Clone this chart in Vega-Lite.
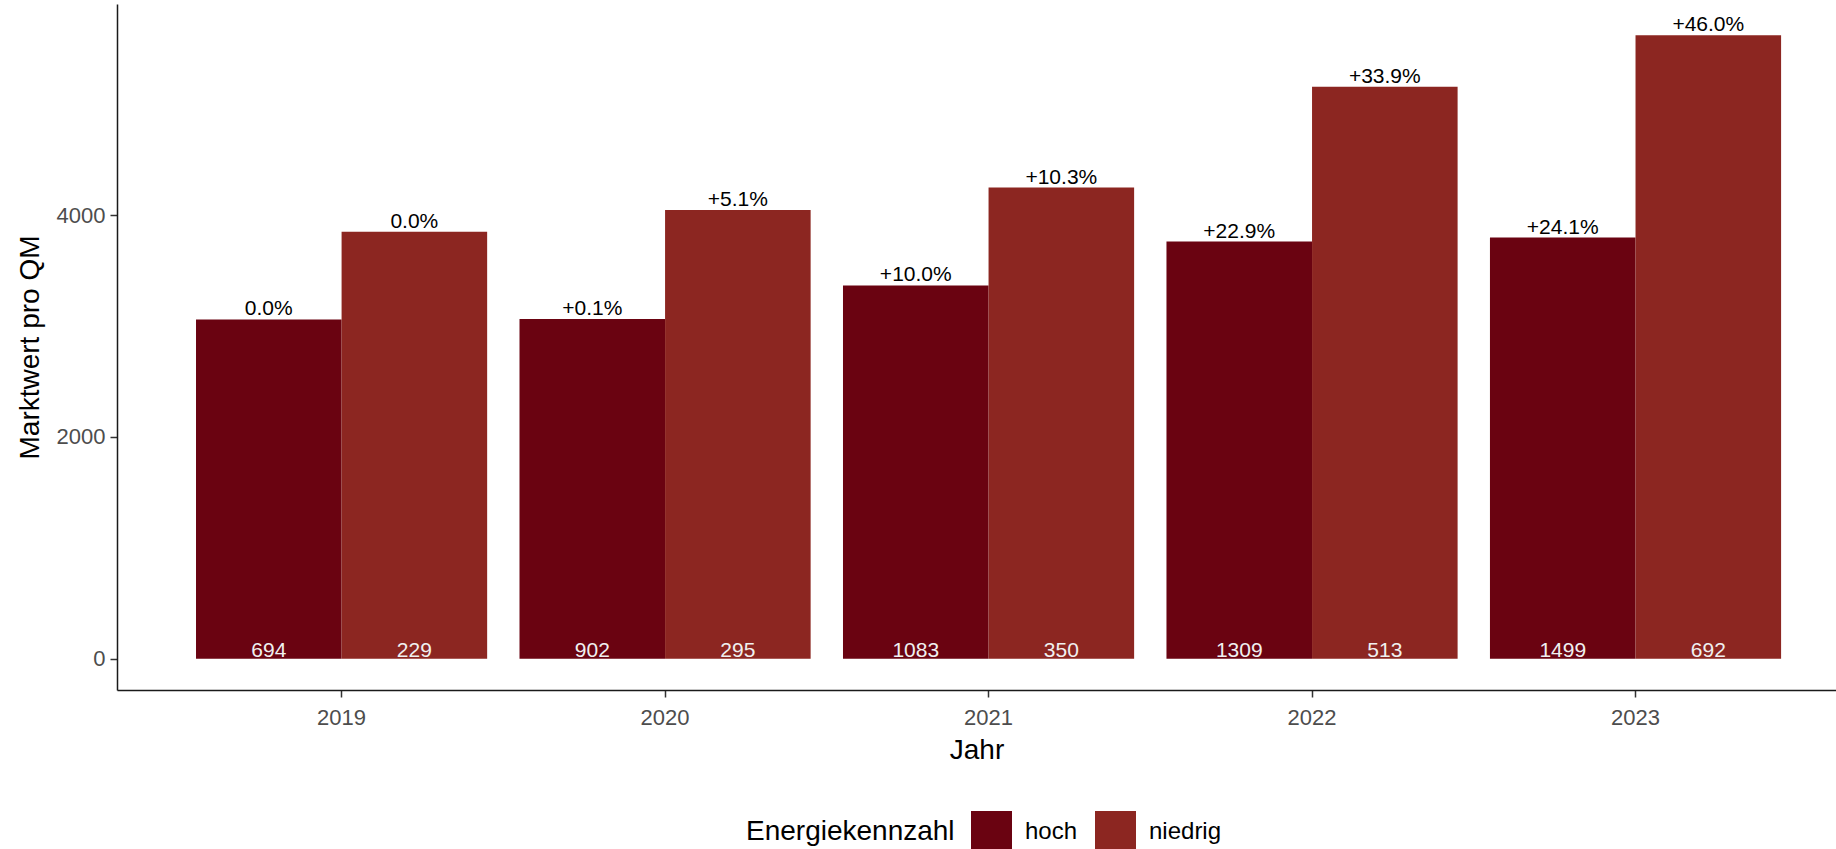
{
  "$schema": "https://vega.github.io/schema/vega-lite/v6.json",
  "width": 1719,
  "height": 686,
  "autosize": {"type": "none"},
  "padding": {"left": 117, "top": 4, "right": 0, "bottom": 159},
  "background": "white",
  "config": {
    "font": "Liberation Sans",
    "view": {"stroke": null},
    "axis": {
      "grid": false,
      "domainColor": "#1a1a1a",
      "domainWidth": 1.5,
      "tickColor": "#333333",
      "tickWidth": 1.5,
      "tickSize": 7,
      "labelFont": "Liberation Sans",
      "labelFontSize": 22,
      "labelColor": "#4D4D4D",
      "titleFont": "Liberation Sans",
      "titleFontSize": 28,
      "titleFontWeight": "normal",
      "titleColor": "#000000"
    }
  },
  "data": {
    "values": [
      {"Jahr": "2019", "Energiekennzahl": "hoch", "Wert": 3060, "Veraenderung": "0.0%", "Anzahl": "694"},
      {"Jahr": "2019", "Energiekennzahl": "niedrig", "Wert": 3851, "Veraenderung": "0.0%", "Anzahl": "229"},
      {"Jahr": "2020", "Energiekennzahl": "hoch", "Wert": 3063, "Veraenderung": "+0.1%", "Anzahl": "902"},
      {"Jahr": "2020", "Energiekennzahl": "niedrig", "Wert": 4047, "Veraenderung": "+5.1%", "Anzahl": "295"},
      {"Jahr": "2021", "Energiekennzahl": "hoch", "Wert": 3366, "Veraenderung": "+10.0%", "Anzahl": "1083"},
      {"Jahr": "2021", "Energiekennzahl": "niedrig", "Wert": 4248, "Veraenderung": "+10.3%", "Anzahl": "350"},
      {"Jahr": "2022", "Energiekennzahl": "hoch", "Wert": 3761, "Veraenderung": "+22.9%", "Anzahl": "1309"},
      {"Jahr": "2022", "Energiekennzahl": "niedrig", "Wert": 5156, "Veraenderung": "+33.9%", "Anzahl": "513"},
      {"Jahr": "2023", "Energiekennzahl": "hoch", "Wert": 3797, "Veraenderung": "+24.1%", "Anzahl": "1499"},
      {"Jahr": "2023", "Energiekennzahl": "niedrig", "Wert": 5622, "Veraenderung": "+46.0%", "Anzahl": "692"}
    ]
  },
  "encoding": {
    "x": {
      "field": "Jahr",
      "type": "nominal",
      "scale": {"paddingInner": 0.1, "paddingOuter": 0.207, "align": 0.59},
      "axis": {"labelAngle": 0, "labelPadding": 10, "titlePadding": 8, "title": "Jahr"}
    },
    "xOffset": {
      "field": "Energiekennzahl",
      "type": "nominal",
      "scale": {"paddingInner": 0, "paddingOuter": 0}
    }
  },
  "layer": [
    {
      "mark": {"type": "bar", "stroke": null},
      "encoding": {
        "y": {
          "field": "Wert",
          "type": "quantitative",
          "stack": null,
          "scale": {"domain": [-281, 5903], "nice": false, "zero": false},
          "axis": {"values": [0, 2000, 4000], "format": "d", "labelPadding": 5, "titlePadding": 12, "title": "Marktwert pro QM"}
        },
        "color": {
          "field": "Energiekennzahl",
          "type": "nominal",
          "scale": {"domain": ["hoch", "niedrig"], "range": ["#6A0311", "#8C2621"]},
          "legend": {
            "orient": "none",
            "direction": "horizontal",
            "legendX": 629,
            "legendY": 807,
            "title": "Energiekennzahl",
            "titleOrient": "left",
            "titleAnchor": "middle",
            "titleBaseline": "middle",
            "titleLimit": 600,
            "titleFont": "Liberation Sans",
            "titleFontSize": 28,
            "titleFontWeight": "normal",
            "titleColor": "#000000",
            "titlePadding": 16,
            "labelFont": "Liberation Sans",
            "labelFontSize": 24,
            "labelLimit": 300,
            "labelColor": "#000000",
            "labelOffset": 13,
            "columnPadding": 17,
            "symbolType": "square",
            "symbolSize": 1681,
            "symbolStrokeWidth": 0,
            "symbolOpacity": 1
          }
        }
      }
    },
    {
      "mark": {"type": "text", "baseline": "alphabetic", "dy": -4, "fontSize": 21, "color": "#000000", "font": "Liberation Sans"},
      "encoding": {
        "y": {"field": "Wert", "type": "quantitative"},
        "text": {"field": "Veraenderung"}
      }
    },
    {
      "mark": {"type": "text", "baseline": "alphabetic", "dy": -2, "fontSize": 21, "color": "#F0F0F0", "font": "Liberation Sans"},
      "encoding": {
        "y": {"datum": 0, "type": "quantitative"},
        "text": {"field": "Anzahl"}
      }
    }
  ]
}
